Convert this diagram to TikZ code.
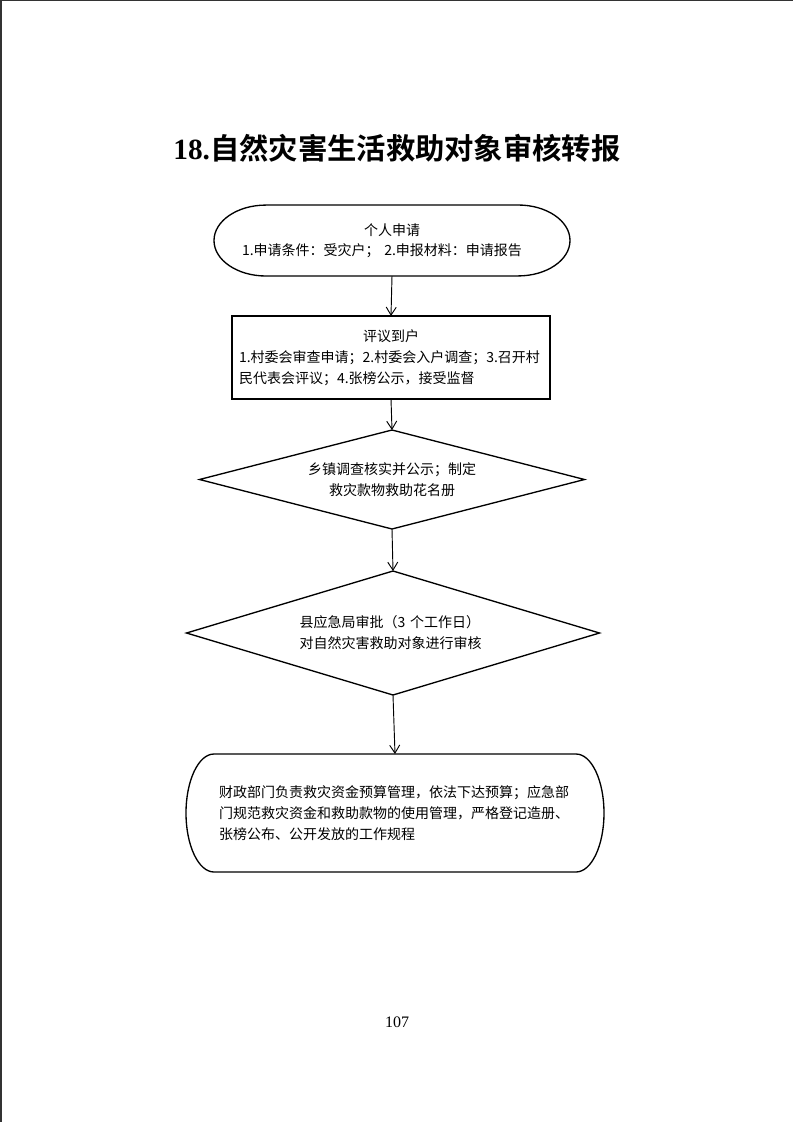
\documentclass[tikz,border=0pt]{standalone}
\usepackage{fontspec}
\setmainfont{Liberation Serif}
\newfontfamily\cjk{Noto Sans CJK SC}
\newfontfamily\cjkbf{Noto Sans CJK SC Bold}
\usetikzlibrary{shapes.geometric,arrows.meta,calc}

\tikzset{
  frame/.style={line width=1pt},
  flow/.style={line width=0.7pt,-{Straight Barb[length=6pt,width=7.5pt]}},
  body/.style={font=\cjk\fontsize{10.5}{15.75}\selectfont,inner sep=0pt,outer sep=0pt},
  choice/.style={body,shape=diamond,draw,frame}
}

% outline of a terminator box: node name, x radius, y radius
\newcommand{\termoutline}[3]{%
  \draw[frame] ($(#1.north west)+(#2,0)$) -- ($(#1.north east)+(-#2,0)$)
    arc[start angle=90,end angle=-90,x radius=#2,y radius=#3]
    -- ($(#1.south west)+(#2,0)$)
    arc[start angle=270,end angle=90,x radius=#2,y radius=#3] -- cycle;}

\begin{document}
\begin{tikzpicture}[x=0.75pt,y=-0.75pt]
\useasboundingbox (0,0) rectangle (793,1122);
\draw[line width=1pt,black!80] (0,0.7) -- (793,0.7);
\draw[line width=1pt,black!80] (1,0) -- (1,1122);

\node[font=\fontsize{22}{26}\selectfont] (title) at (397,148)
  {\textbf{18.}{\cjkbf 自然灾害生活救助对象审核转报}};

\node[body,font=\cjk\fontsize{10.5}{15}\selectfont,minimum width=267pt,minimum height=53.25pt,
  text width=225pt,align=left] (apply) at (392,240.5)
  {{\centering 个人申请\par}1.申请条件：受灾户； 2.申报材料：申请报告};
\termoutline{apply}{39pt}{26.6pt}

\node[body,draw,frame,minimum width=238.5pt,minimum height=62.25pt,
  text width=228pt,align=left] (review) at (391,357.5)
  {{\centering 评议到户\par}1.村委会审查申请；2.村委会入户调查；3.召开村\\民代表会评议；4.张榜公示，接受监督};

\node[choice,minimum width=288.75pt,minimum height=74.25pt,aspect=3.9,align=center]
  (town) at (392,479.5) {乡镇调查核实并公示；制定\\救灾款物救助花名册};

\node[choice,minimum width=309.75pt,minimum height=93pt,aspect=3.3,
  text width=140pt,align=left] (county) at (393,633)
  {县应急局审批（3~个工作日）\\对自然灾害救助对象进行审核};

\node[body,minimum width=313.5pt,minimum height=88.5pt,text width=264pt,align=left]
  (fund) at (395,813)
  {财政部门负责救灾资金预算管理，依法下达预算；应急部\\门规范救灾资金和救助款物的使用管理，严格登记造册、\\张榜公布、公开发放的工作规程};
\termoutline{fund}{21pt}{44.25pt}

\draw[flow] (apply.south) -- (review.north);
\draw[flow] (review.south) -- (town.north);
\draw[flow] (town.south) -- (county.north);
\draw[flow] (county.south) -- (fund.north);

\node[font=\fontsize{12}{14}\selectfont] (page) at (397,1022) {107};
\end{tikzpicture}
\end{document}
